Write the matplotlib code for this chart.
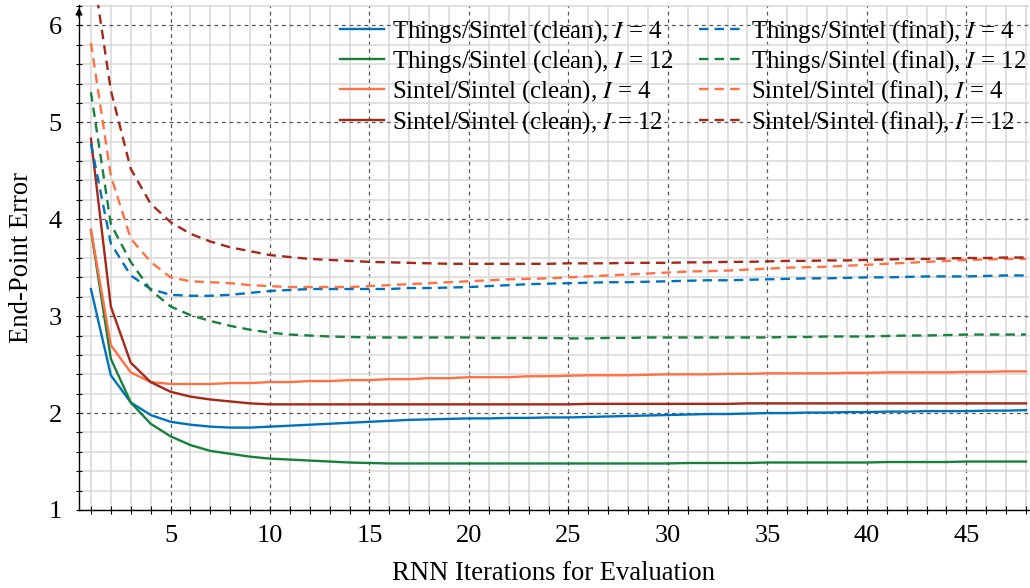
import matplotlib
matplotlib.use('Agg')
import matplotlib.pyplot as plt
from matplotlib.ticker import MultipleLocator

plt.rcParams['font.family'] = 'serif'
plt.rcParams['font.serif'] = ['Liberation Serif', 'DejaVu Serif']
plt.rcParams['mathtext.fontset'] = 'stix'

iterations = list(range(1, 49))

things_clean_4 = [3.28, 2.39, 2.11, 1.98, 1.91, 1.88, 1.86, 1.85, 1.85, 1.86,
                  1.87, 1.88, 1.89, 1.90, 1.91, 1.92, 1.93, 1.935, 1.94, 1.945,
                  1.945, 1.95, 1.95, 1.955, 1.955, 1.96, 1.965, 1.97, 1.975, 1.98,
                  1.985, 1.99, 1.99, 1.995, 2.00, 2.00, 2.005, 2.005, 2.01, 2.01,
                  2.015, 2.015, 2.02, 2.02, 2.02, 2.025, 2.025, 2.03]
things_clean_12 = [3.89, 2.56, 2.11, 1.89, 1.76, 1.67, 1.61, 1.58, 1.55, 1.53,
                   1.52, 1.51, 1.50, 1.49, 1.485, 1.48, 1.48, 1.48, 1.48, 1.48,
                   1.48, 1.48, 1.48, 1.48, 1.48, 1.48, 1.48, 1.48, 1.48, 1.48,
                   1.485, 1.485, 1.485, 1.485, 1.49, 1.49, 1.49, 1.49, 1.49, 1.49,
                   1.495, 1.495, 1.495, 1.495, 1.50, 1.50, 1.50, 1.50]
sintel_clean_4 = [3.89, 2.70, 2.42, 2.32, 2.30, 2.30, 2.30, 2.31, 2.31, 2.32,
                  2.32, 2.33, 2.33, 2.34, 2.34, 2.35, 2.35, 2.36, 2.36, 2.37,
                  2.37, 2.37, 2.38, 2.38, 2.385, 2.39, 2.39, 2.39, 2.395, 2.40,
                  2.40, 2.40, 2.405, 2.405, 2.41, 2.41, 2.41, 2.41, 2.415, 2.415,
                  2.42, 2.42, 2.42, 2.42, 2.425, 2.425, 2.43, 2.43]
sintel_clean_12 = [4.83, 3.10, 2.52, 2.32, 2.22, 2.17, 2.14, 2.12, 2.10, 2.09,
                   2.09, 2.09, 2.09, 2.09, 2.09, 2.09, 2.09, 2.09, 2.09, 2.09,
                   2.09, 2.09, 2.09, 2.09, 2.09, 2.095, 2.095, 2.095, 2.095, 2.095,
                   2.095, 2.095, 2.095, 2.10, 2.10, 2.10, 2.10, 2.10, 2.10, 2.10,
                   2.10, 2.10, 2.10, 2.10, 2.10, 2.10, 2.10, 2.10]
things_final_4 = [4.78, 3.75, 3.42, 3.28, 3.22, 3.21, 3.21, 3.22, 3.24, 3.26,
                  3.27, 3.28, 3.28, 3.28, 3.28, 3.28, 3.29, 3.29, 3.295, 3.30,
                  3.31, 3.32, 3.33, 3.335, 3.34, 3.345, 3.35, 3.35, 3.355, 3.36,
                  3.365, 3.37, 3.37, 3.375, 3.38, 3.385, 3.39, 3.39, 3.395, 3.40,
                  3.40, 3.405, 3.41, 3.41, 3.41, 3.415, 3.42, 3.42]
things_final_12 = [5.31, 3.95, 3.56, 3.27, 3.10, 3.01, 2.95, 2.90, 2.86, 2.83,
                   2.81, 2.80, 2.79, 2.785, 2.78, 2.78, 2.78, 2.78, 2.78, 2.78,
                   2.775, 2.775, 2.775, 2.775, 2.77, 2.77, 2.775, 2.775, 2.78, 2.78,
                   2.78, 2.78, 2.78, 2.78, 2.78, 2.785, 2.785, 2.79, 2.79, 2.79,
                   2.795, 2.80, 2.80, 2.805, 2.81, 2.81, 2.81, 2.81]
sintel_final_4 = [5.82, 4.45, 3.80, 3.56, 3.40, 3.36, 3.35, 3.34, 3.32, 3.31,
                  3.30, 3.30, 3.30, 3.30, 3.31, 3.32, 3.33, 3.34, 3.35, 3.36,
                  3.37, 3.38, 3.385, 3.39, 3.40, 3.41, 3.42, 3.43, 3.44, 3.45,
                  3.46, 3.465, 3.47, 3.48, 3.49, 3.50, 3.505, 3.51, 3.52, 3.53,
                  3.54, 3.55, 3.56, 3.57, 3.58, 3.585, 3.59, 3.59]
sintel_final_12 = [6.71, 5.33, 4.52, 4.16, 3.97, 3.85, 3.77, 3.71, 3.67, 3.63,
                   3.61, 3.59, 3.58, 3.57, 3.56, 3.555, 3.55, 3.545, 3.54, 3.54,
                   3.54, 3.54, 3.54, 3.54, 3.545, 3.545, 3.545, 3.55, 3.55, 3.55,
                   3.555, 3.555, 3.56, 3.56, 3.565, 3.57, 3.57, 3.575, 3.575, 3.58,
                   3.585, 3.59, 3.59, 3.595, 3.60, 3.60, 3.605, 3.605]

blue = '#0072bd'
green = '#16803c'
orange = '#ff7043'
darkred = '#a5281b'

solid = [
    (things_clean_4, blue, r'Things/Sintel (clean), $I$ = 4'),
    (things_clean_12, green, r'Things/Sintel (clean), $I$ = 12'),
    (sintel_clean_4, orange, r'Sintel/Sintel (clean), $I$ = 4'),
    (sintel_clean_12, darkred, r'Sintel/Sintel (clean), $I$ = 12'),
]
dashed = [
    (things_final_4, blue, r'Things/Sintel (final), $I$ = 4'),
    (things_final_12, green, r'Things/Sintel (final), $I$ = 12'),
    (sintel_final_4, orange, r'Sintel/Sintel (final), $I$ = 4'),
    (sintel_final_12, darkred, r'Sintel/Sintel (final), $I$ = 12'),
]

fig = plt.figure(figsize=(10.30, 5.88), dpi=100)
ax = fig.add_axes([79 / 1030, 1 - 510 / 588, 950 / 1030, 505 / 588])

for vals, col, lab in solid:
    ax.plot(iterations, vals, color=col, lw=1.7, label=lab)
for vals, col, lab in dashed:
    ax.plot(iterations, vals, color=col, lw=1.7, ls=(0, (4, 2.6)), label=lab)

ax.set_xlim(0.4, 48.15)
ax.set_ylim(1, 6.21)
ax.set_xticks([5, 10, 15, 20, 25, 30, 35, 40, 45])
ax.xaxis.set_minor_locator(MultipleLocator(1))
ax.yaxis.set_major_locator(MultipleLocator(1))
ax.yaxis.set_minor_locator(MultipleLocator(0.2))

ax.grid(which='minor', color='#d9d9d9', lw=1.1, ls='-')
ax.grid(which='major', color='#555555', lw=0.9, ls=(0, (3, 3)))
ax.set_axisbelow(True)

for side in ('top', 'right'):
    ax.spines[side].set_visible(False)
ax.spines['left'].set_linewidth(1.0)
ax.spines['bottom'].set_linewidth(1.0)

ax.tick_params(axis='x', which='both', direction='inout', length=6, width=0.8,
               labelsize=19, pad=8)
ax.tick_params(axis='y', which='both', direction='inout', length=5, width=0.8,
               labelsize=19, pad=10)

# arrow head on top of the y axis
ax.annotate('', xy=(0, 1.0), xytext=(0, 0.97), xycoords='axes fraction',
            arrowprops=dict(arrowstyle='-|>', color='black', lw=1.0, mutation_scale=10),
            annotation_clip=False)

ax.set_xlabel('RNN Iterations for Evaluation', fontsize=19.2, labelpad=10)
ax.set_ylabel('End-Point Error', fontsize=19.2, labelpad=10)

ax.legend(ncol=2, loc='upper right', bbox_to_anchor=(1.010, 0.999), frameon=False,
          fontsize=17.9, handlelength=1.8, handletextpad=0.3, columnspacing=1.0,
          labelspacing=0.14, borderaxespad=0.1)

fig.savefig('out.png', dpi=100)
